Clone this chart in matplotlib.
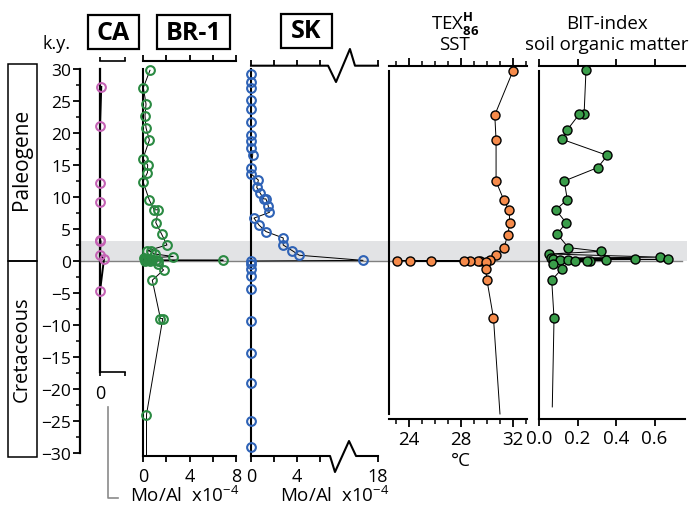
import numpy as np
import matplotlib
matplotlib.use('Agg')
from matplotlib import pyplot as plt
from matplotlib.patches import Rectangle
from matplotlib.lines import Line2D

plt.rcParams['font.family'] = ['Open Sans', 'DejaVu Sans']
plt.rcParams['mathtext.fontset'] = 'custom'
plt.rcParams['mathtext.rm'] = 'Open Sans'
plt.rcParams['mathtext.bf'] = 'Open Sans:bold'

# ---- data (depth in k.y. relative to K/Pg boundary) ----
ca_depth = [27.2, 21.1, 12.2, 9.2, 3.3, 3.1, 1.0, 0.3, -4.7]
ca_val = [0.05, 0.0, 0.0, 0.0, 0.0, 0.02, 0.0, 0.16, 0.0]

br_depth = [29.8, 27.1, 24.5, 22.7, 20.8, 18.9, 16.0, 15.0, 13.8, 12.4, 9.5, 8.0, 8.0,
            6.0, 4.2, 2.5, 1.6, 1.5, 1.1, 0.7, 0.45, 0.35, 0.3, 0.25, 0.2, 0.15, 0.12,
            0.1, 0.05, 0.0, -0.05, -0.5, -1.4, -3.0, -9.0, -9.0, -24.0, -30.47]
br_moal = [0.6, 0.03, 0.26, 0.17, 0.26, 0.55, 0.0, 0.4, 0.38, 0.0, 0.55, 0.96, 1.33,
           1.1, 1.6, 2.06, 0.38, 0.65, 1.0, 2.6, 0.1, 0.3, 0.5, 0.2, 0.8, 1.1, 6.9,
           0.4, 1.3, 0.6, 0.15, 1.25, 1.77, 0.8, 1.5, 1.7, 0.3, 0.3]

sk_depth = [29.2, 28.0, 27.1, 25.2, 23.8, 21.7, 19.7, 18.7, 17.6, 16.6, 14.6, 13.6,
            12.65, 11.5, 10.6, 9.7, 9.7, 8.6, 7.6, 6.7, 5.6, 4.6, 3.6, 2.5, 1.6, 0.9,
            0.1, 0.0, -0.4, -1.2, -2.4, -4.4, -9.4, -14.4, -19.1, -25.0, -29.1]
sk_moal = [0, 0, 0, 0, 0, 0, 0, 0, 0, 0.15, 0, 0,
           0.64, 0.5, 0.8, 1.1, 1.3, 1.5, 1.6, 0.26, 0.7, 1.3, 2.8, 2.8, 3.6, 4.2,
           16.7, 0, 0, 0, 0, 0, 0, 0, 0, 0, 0]

tex_depth = [29.7, 22.8, 18.9, 12.45, 9.5, 7.9, 6.0, 4.1, 2.0, 1.0, 0.1, 0.06, 0.04,
             0.02, 0.0, -0.02, -0.04, -0.06, -0.08, -1.25, -3.0, -8.9, -23.9]
tex_sst = [32.0, 30.6, 30.7, 30.7, 31.3, 31.7, 31.76, 31.6, 31.3, 30.7, 30.2, 29.45, 23.1,
           29.3, 24.1, 28.7, 25.7, 28.2, 29.9, 29.9, 30.0, 30.5, 31.0]

bit_depth = [29.8, 22.9, 22.9, 20.5, 19.0, 16.5, 14.6, 12.5, 9.6, 8.0, 6.0, 4.2, 2.1,
             1.5, 1.1, 0.6, 0.45, 0.35, 0.3, 0.25, 0.2, 0.15, 0.1, 0.05, 0.0, -0.05,
             -0.5, -1.25, -3.0, -8.9, -22.8]
bit_val = [0.244, 0.234, 0.208, 0.147, 0.121, 0.355, 0.305, 0.131, 0.147, 0.087, 0.14,
           0.095, 0.152, 0.32, 0.054, 0.629, 0.061, 0.499, 0.074, 0.672, 0.109, 0.348,
           0.149, 0.265, 0.187, 0.251, 0.071, 0.118, 0.066, 0.078, 0.069]

W, H = 693, 506


def rect(x0, y0, x1, y1):
    return [x0 / W, 1 - y1 / H, (x1 - x0) / W, (y1 - y0) / H]


def depth(ypix):
    return (262 - ypix) / 6.4


def sk_x(v):
    # broken axis: values above the break are shifted
    v = np.asarray(v, dtype=float)
    return np.where(v > 7, v - 6.96, v)


fig = plt.figure(figsize=(W / 100, H / 100), dpi=100)

# background: K/Pg band, zero line, depth axis
bg = fig.add_axes(rect(80, 70, 687, 454), zorder=0)
bg.set_xlim(0, 1)
bg.set_ylim(-30, 30)
bg.axhspan(0, 3.2, fc='#e2e3e5', ec='none')
bg.axhline(0, xmax=(682 - 80) / 607, color='#808080', lw=1)
for s in ['top', 'right', 'bottom']:
    bg.spines[s].set_visible(False)
bg.spines['left'].set_linewidth(1.6)
bg.set_xticks([])
bg.set_yticks(np.arange(-30, 31, 5))
bg.set_yticks(np.arange(-27.5, 30, 5), minor=True)
bg.tick_params(axis='y', which='major', length=5, width=1.3, labelsize=12.5, pad=1.5)
bg.tick_params(axis='y', which='minor', length=3, width=1.1)


def clean(ax, zo=2):
    ax.patch.set_alpha(0)
    ax.set_zorder(zo)
    ax.spines['right'].set_visible(False)
    ax.set_yticks([])


# CA
ax = fig.add_axes(rect(100, 62, 125, 373))
clean(ax)
ax.set_ylim(depth(373), depth(62))
ax.set_xlim(0, 1)
ax.spines['left'].set_bounds(depth(373), 30)
ax.spines['left'].set_linewidth(1.6)
ax.spines['top'].set_linewidth(1.2)
ax.spines['bottom'].set_linewidth(1.2)
ax.set_xticks([0, 1], ['0', ''])
ax.tick_params(axis='x', top=True, direction='out', length=3, width=1.2, labelsize=13, pad=6)
ax.plot(ca_val, ca_depth, color='k', lw=1.4, zorder=2)
ax.plot(ca_val, ca_depth, 'o', mfc='none', mec='#c462b4', ms=6.3, mew=1.5, zorder=3, clip_on=False)

# BR-1
ax = fig.add_axes(rect(143, 62, 236, 457))
clean(ax)
ax.set_ylim(depth(457), depth(62))
ax.set_xlim(0, 8)
ax.spines['left'].set_bounds(depth(457), 30)
for s in ['left', 'top', 'bottom']:
    ax.spines[s].set_linewidth(1.5)
ax.set_xticks([0, 4, 8])
ax.set_xticks([2, 6], minor=True)
ax.tick_params(axis='x', which='both', top=True, direction='out', length=4, width=1.3,
               labelsize=13, pad=4)
ax.plot(br_moal, br_depth, color='k', lw=0.7, zorder=2)
ax.plot(br_moal[:-1], br_depth[:-1], 'o', mfc='none', mec='#2a8a42', ms=6.3, mew=1.5,
        zorder=3, clip_on=False)

# SK (broken x axis)
ax = fig.add_axes(rect(251, 66.7, 378, 457))
clean(ax)
ymin, ymax = depth(457), depth(66.7)
ax.set_ylim(ymin, ymax)
ax.set_xlim(0, 11.04)
ax.spines['left'].set_bounds(ymin, 30)
ax.spines['left'].set_linewidth(1.5)
ax.spines['top'].set_visible(False)
ax.spines['bottom'].set_visible(False)
ax.set_xticks([0, 4, 11.04], ['0', '4', '18'])
ax.set_xticks([2, 6], minor=True)
ax.tick_params(axis='x', which='both', top=True, direction='out', length=4, width=1.3,
               labelsize=13, pad=4)
ax.plot([0, 6.7, 7.39, 8.6, 9.04, 11.04], [ymax, ymax, depth(83), depth(50), ymax, ymax],
        color='k', lw=1.5, clip_on=False)
ax.plot([0, 6.87, 7.3, 8.52, 9.13, 11.04], [ymin, ymin, depth(473), depth(442), ymin, ymin],
        color='k', lw=1.5, clip_on=False)
ax.plot(sk_x(sk_moal), sk_depth, color='k', lw=0.7, zorder=2)
ax.plot(sk_x(sk_moal), sk_depth, 'o', mfc='none', mec='#2e62b6', ms=6.3, mew=1.5,
        zorder=3, clip_on=False)

# TEX86 SST
ax = fig.add_axes(rect(389, 66.7, 527, 420))
clean(ax)
ax.set_ylim(depth(420), depth(66.7))
ax.set_xlim(22.46, 33.08)
ax.spines['left'].set_bounds(-23.9, 29.7)
for s in ['left', 'top', 'bottom']:
    ax.spines[s].set_linewidth(1.5)
ax.set_xticks([24, 28, 32])
ax.set_xticks(np.arange(23, 34, 1), minor=True)
ax.tick_params(axis='x', which='major', top=True, direction='out', length=6, width=1.3,
               labelsize=13.5, pad=2)
ax.tick_params(axis='x', which='minor', top=True, direction='out', length=3.5, width=1.1)
ax.plot(tex_sst, tex_depth, color='k', lw=0.7, zorder=2)
ax.plot(tex_sst[:-1], tex_depth[:-1], 'o', mfc='#f68b4b', mec='k', ms=6.5, mew=1.0, zorder=3)

# BIT index
ax = fig.add_axes(rect(539, 66.7, 685, 420))
clean(ax)
ax.set_ylim(depth(420), depth(66.7))
ax.set_xlim(0, 0.758)
ax.spines['left'].set_bounds(depth(420), 29.7)
for s in ['left', 'top', 'bottom']:
    ax.spines[s].set_linewidth(1.5)
ax.set_xticks([0, 0.2, 0.4, 0.6], ['0.0', '0.2', '0.4', '0.6'])
ax.tick_params(axis='x', top=True, direction='out', length=5, width=1.3, labelsize=13.5, pad=2)
ax.plot(bit_val, bit_depth, color='k', lw=0.7, zorder=2)
ax.plot(bit_val[:-1], bit_depth[:-1], 'o', mfc='#3a9d4a', mec='k', ms=6.5, mew=1.0, zorder=3)


# ---- labels and boxes ----
def ftext(x, y, s, **kw):
    fig.text(x / W, 1 - y / H, s, **kw)


def fbox(x0, y0, x1, y1, lw=1.6):
    fig.add_artist(Rectangle((x0 / W, 1 - y1 / H), (x1 - x0) / W, (y1 - y0) / H,
                             transform=fig.transFigure, fill=False, ec='k', lw=lw))


fbox(88, 16, 139, 50)
fbox(157, 16, 230, 50)
fbox(281, 15, 332, 49)
ftext(113.5, 33, 'CA', ha='center', va='center', fontsize=18, fontweight='bold')
ftext(193.5, 33, 'BR-1', ha='center', va='center', fontsize=18, fontweight='bold')
ftext(306.5, 32, 'SK', ha='center', va='center', fontsize=18, fontweight='bold')
ftext(57, 44, 'k.y.', ha='center', va='center', fontsize=13)

fbox(8, 65, 37, 262, lw=1.1)
fbox(8, 262, 37, 458, lw=1.1)
ftext(22, 159, 'Paleogene', ha='center', va='center', rotation=90, fontsize=15)
ftext(22, 349, 'Cretaceous', ha='center', va='center', rotation=90, fontsize=14.5)

ftext(455, 24, r'TEX$^{\mathbf{H}}_{\mathbf{86}}$', ha='center', va='center', fontsize=13.5)
ftext(455, 45, 'SST', ha='center', va='center', fontsize=13.5)
ftext(607, 24, 'BIT-index', ha='center', va='center', fontsize=13.5)
ftext(607, 45, 'soil organic matter', ha='center', va='center', fontsize=13.5)
ftext(461, 461, '°C', ha='center', va='center', fontsize=13.5)

fig.add_artist(Line2D([108 / W, 108 / W, 118 / W], [1 - 408 / H, 1 - 499 / H, 1 - 499 / H],
                      transform=fig.transFigure, color='#8a8a8a', lw=1.2))
ftext(130, 496, r'Mo/Al  x10$^{-4}$', ha='left', va='center', fontsize=13.5)
ftext(280, 496, r'Mo/Al  x10$^{-4}$', ha='left', va='center', fontsize=13.5)

fig.savefig('out.png', dpi=100)
